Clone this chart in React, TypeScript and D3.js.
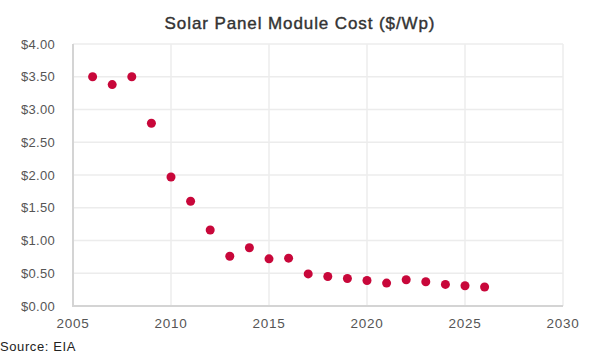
import React, { useEffect, useRef } from 'react';
import * as d3 from 'd3';

// Module cost in $/Wp
const years = [2006, 2007, 2008, 2009, 2010, 2011, 2012, 2013, 2014, 2015, 2016, 2017, 2018, 2019, 2020, 2021, 2022, 2023, 2024, 2025, 2026];
const costs = [3.5, 3.38, 3.5, 2.79, 1.97, 1.6, 1.16, 0.76, 0.89, 0.72, 0.73, 0.49, 0.45, 0.42, 0.39, 0.35, 0.4, 0.37, 0.33, 0.31, 0.29];
const xTicks = [2005, 2010, 2015, 2020, 2025, 2030];
const yTicks = [0, 0.5, 1, 1.5, 2, 2.5, 3, 3.5, 4];

const App = () => {
    const svgRef = useRef<SVGSVGElement>(null);

    useEffect(() => {
        const width = 600;
        const height = 360;
        const left = 73;
        const right = 563;
        const top = 44;
        const bottom = 306;
        const font = 'Liberation Sans, Arial, sans-serif';

        const svg = d3.select(svgRef.current);
        svg.selectAll('*').remove();
        svg.attr('width', width).attr('height', height);

        const x = d3.scaleLinear().domain([2005, 2030]).range([left, right]);
        const y = d3.scaleLinear().domain([0, 4]).range([bottom, top]);

        // gridlines
        svg.append('g')
            .selectAll('line.h')
            .data(yTicks)
            .join('line')
            .attr('x1', left).attr('x2', right)
            .attr('y1', d => y(d)).attr('y2', d => y(d))
            .attr('stroke', '#ececec').attr('stroke-width', 1.5);

        svg.append('g')
            .selectAll('line.v')
            .data(xTicks)
            .join('line')
            .attr('x1', d => x(d)).attr('x2', d => x(d))
            .attr('y1', top).attr('y2', bottom)
            .attr('stroke', '#ececec').attr('stroke-width', 1.5);

        // axis lines
        svg.append('line')
            .attr('x1', left).attr('x2', left).attr('y1', top).attr('y2', bottom + 1)
            .attr('stroke', '#d4d4d4').attr('stroke-width', 2);
        svg.append('line')
            .attr('x1', left).attr('x2', right).attr('y1', bottom).attr('y2', bottom)
            .attr('stroke', '#d4d4d4').attr('stroke-width', 2);

        // tick labels
        svg.append('g')
            .selectAll('text')
            .data(yTicks)
            .join('text')
            .attr('x', 55)
            .attr('y', d => y(d) + 4.5)
            .attr('text-anchor', 'end')
            .style('font-family', font)
            .style('font-size', '13px')
            .style('letter-spacing', '0.3px')
            .style('fill', '#555')
            .text(d => '$' + d.toFixed(2));

        svg.append('g')
            .selectAll('text')
            .data(xTicks)
            .join('text')
            .attr('x', d => x(d))
            .attr('y', 328)
            .attr('text-anchor', 'middle')
            .style('font-family', font)
            .style('font-size', '13.5px')
            .style('letter-spacing', '0.8px')
            .style('fill', '#555')
            .text(d => d);

        // points
        svg.append('g')
            .selectAll('circle')
            .data(years)
            .join('circle')
            .attr('cx', d => x(d))
            .attr('cy', (d, i) => y(costs[i]))
            .attr('r', 4.5)
            .attr('fill', '#c8073a');

        svg.append('text')
            .attr('x', 300)
            .attr('y', 29)
            .attr('text-anchor', 'middle')
            .style('font-family', font)
            .style('font-size', '17px')
            .style('letter-spacing', '0.9px')
            .style('stroke', '#333')
            .style('stroke-width', 0.4)
            .style('fill', '#333')
            .text('Solar Panel Module Cost ($/Wp)');

        svg.append('text')
            .attr('x', 0)
            .attr('y', 351)
            .style('font-family', font)
            .style('font-size', '13px')
            .style('letter-spacing', '0.6px')
            .style('fill', '#222')
            .text('Source: EIA');
    }, []);

    return (
        <div style={{ position: 'absolute', left: 0, top: 0 }}>
            <svg ref={svgRef} style={{ display: 'block' }}></svg>
        </div>
    );
};

export default App;
